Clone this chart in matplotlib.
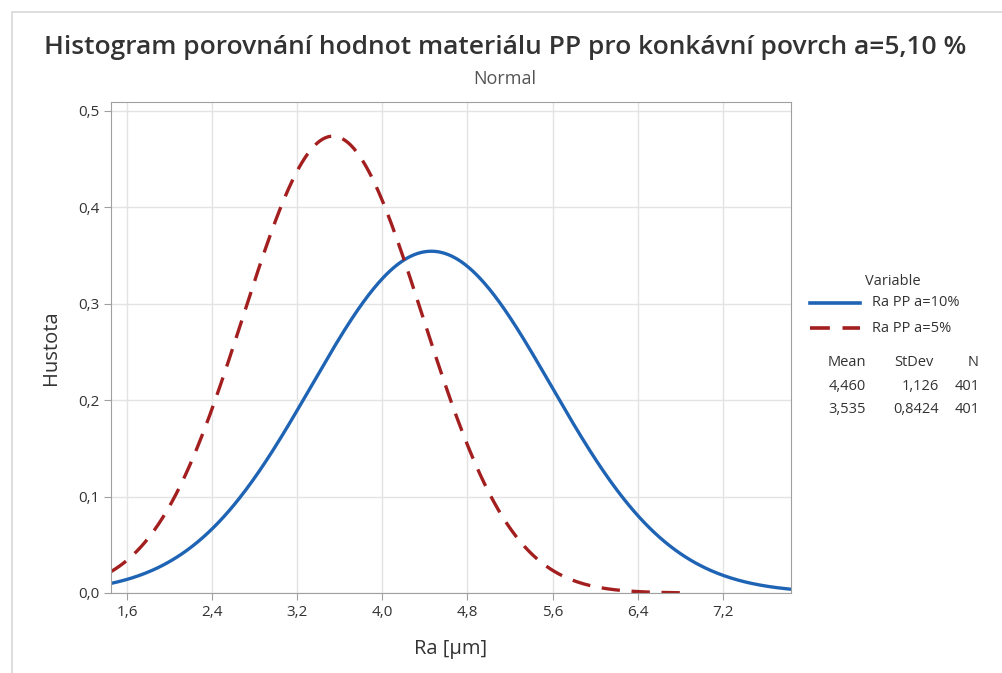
import numpy as np
import matplotlib.pyplot as plt
from matplotlib.patches import Rectangle

# Data (fitted normal distributions)
labels = ['Ra PP a=10%', 'Ra PP a=5%']
means = [4.460, 3.535]
stdevs = [1.126, 0.8424]
counts = [401, 401]
x_ends = [7.84, 6.87]
colors = ['#1f64b4', '#a31f1f']
styles = ['-', (0, (5.5, 3.5))]

xticks = [1.6, 2.4, 3.2, 4.0, 4.8, 5.6, 6.4, 7.2]
yticks = [0.0, 0.1, 0.2, 0.3, 0.4, 0.5]

plt.rcParams['font.family'] = ['Open Sans', 'DejaVu Sans']
txt = '#333333'

fig = plt.figure(figsize=(10.03, 6.73), dpi=100)
ax = fig.add_axes([111 / 1003, 1 - 593 / 673, 680 / 1003, 491 / 673])

for lab, m, s, xe, c, ls in zip(labels, means, stdevs, x_ends, colors, styles):
    x = np.linspace(1.45, xe, 400)
    y = np.exp(-0.5 * ((x - m) / s) ** 2) / (s * np.sqrt(2 * np.pi))
    ax.plot(x, y, color=c, linestyle=ls, lw=2.4, label=lab)

ax.set_xlim(1.45, 7.84)
ax.set_ylim(0, 0.509)
ax.set_xticks(xticks)
ax.set_yticks(yticks)
ax.set_xticklabels([f'{v:.1f}'.replace('.', ',') for v in xticks])
ax.set_yticklabels([f'{v:.1f}'.replace('.', ',') for v in yticks])
ax.grid(True, color='#e3e3e3', lw=1)
ax.set_axisbelow(True)
for sp in ax.spines.values():
    sp.set_color('#a0a0a0')
ax.tick_params(colors='#a0a0a0', labelcolor=txt, labelsize=11, length=5, direction='out')
ax.set_xlabel('Ra [µm]', fontsize=14.5, color=txt, labelpad=14)
ax.set_ylabel('Hustota', fontsize=14.5, color=txt, labelpad=12)

fig.text(505 / 1003, 1 - 48 / 673, 'Histogram porovnání hodnot materiálu PP pro konkávní povrch a=5,10 %',
         ha='center', va='center', fontsize=19, color=txt, fontweight='semibold')
fig.text(505 / 1003, 1 - 79 / 673, 'Normal', ha='center', va='center', fontsize=13, color='#555555')

# legend
fig.text(893 / 1003, 1 - 281 / 673, 'Variable', ha='center', va='center', fontsize=10.5, color=txt)
for i, (lab, c, ls) in enumerate(zip(labels, colors, styles)):
    yy = 1 - (303 + 25 * i) / 673
    fig.add_artist(plt.Line2D([810 / 1003, 860 / 1003], [yy, yy], color=c, lw=2.6, linestyle=ls))
    fig.text(872 / 1003, yy, lab, ha='left', va='center', fontsize=10.5, color=txt)

fig.text(847 / 1003, 1 - 362 / 673, 'Mean', ha='center', va='center', fontsize=10.5, color=txt)
fig.text(914 / 1003, 1 - 362 / 673, 'StDev', ha='center', va='center', fontsize=10.5, color=txt)
fig.text(979 / 1003, 1 - 362 / 673, 'N', ha='right', va='center', fontsize=10.5, color=txt)
for i, (m, s, n) in enumerate(zip(means, stdevs, counts)):
    yy = 1 - (386 + 24 * i) / 673
    fig.text(866 / 1003, yy, f'{m:.3f}'.replace('.', ','), ha='right', va='center', fontsize=10.5, color=txt)
    sd = f'{s:.3f}' if s >= 1 else f'{s:.4f}'
    fig.text(939 / 1003, yy, sd.replace('.', ','), ha='right', va='center', fontsize=10.5, color=txt)
    fig.text(980 / 1003, yy, str(n), ha='right', va='center', fontsize=10.5, color=txt)

# outer frame
fig.add_artist(Rectangle((12 / 1003, -0.01), 1.0, 1 - 12 / 673 + 0.01, transform=fig.transFigure,
                         fill=False, edgecolor='#d8d8d8', lw=1.2))

fig.savefig('out.png', dpi=100)
